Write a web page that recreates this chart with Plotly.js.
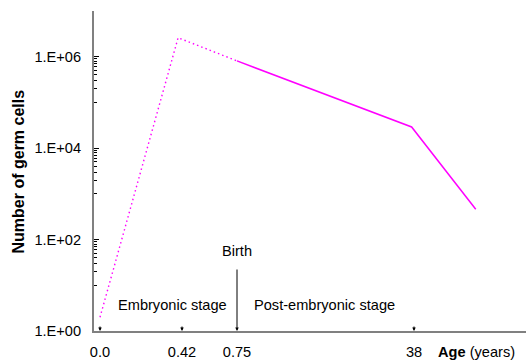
<!DOCTYPE html>
<html>
<head>
<meta charset="utf-8">
<script src="https://cdn.plot.ly/plotly-3.0.1.min.js"></script>
<style>html,body{margin:0;padding:0;background:#fff;}#chart{width:526px;height:360px;}</style>
</head>
<body>
<div id="chart"></div>
<script>
// ---- data ----
const embryonicAges = [0, 0.4, 0.75];
const embryonicCells = [2, 2.6e6, 8.1e5];
const postAges = [0.75, 37.5, 51];
const postCells = [8.1e5, 2.9e4, 460];
const xTickAges = [0, 0.42, 0.75, 38];
const xTickLabels = ['0.0', '0.42', '0.75', '38'];
const yTickVals = [1, 1e2, 1e4, 1e6];
const yTickLabels = ['1.E+00', '1.E+02', '1.E+04', '1.E+06'];

// ---- custom (piecewise) age scale of the x axis ----
const scaleAges = [0, 0.42, 0.75, 38];
const scaleUnits = [0, 82, 137, 314];
const tailSlope = 4.75;
function agePos(a) {
  const n = scaleAges.length;
  if (a >= scaleAges[n - 1]) return scaleUnits[n - 1] + (a - scaleAges[n - 1]) * tailSlope;
  for (let i = 0; i < n - 1; i++) {
    if (a <= scaleAges[i + 1]) {
      const t = (a - scaleAges[i]) / (scaleAges[i + 1] - scaleAges[i]);
      return scaleUnits[i] + t * (scaleUnits[i + 1] - scaleUnits[i]);
    }
  }
}

// minor ticks: k * 10^(n+1) between major ticks
const minorVals = [];
for (let e = 0; e < 7; e += 2) for (let k = 1; k <= 9; k++) minorVals.push(k * Math.pow(10, e + 1));

const FONT = 'Liberation Sans, Arial, sans-serif';
const FS = 14.6;
const MAG = '#ff00ff';

const traces = [
  {x: embryonicAges.map(agePos), y: embryonicCells, type: 'scatter', mode: 'lines',
   line: {color: MAG, width: 1.4, dash: '1.5px,3px'}, hoverinfo: 'skip'},
  {x: postAges.map(agePos), y: postCells, type: 'scatter', mode: 'lines',
   line: {color: MAG, width: 1.5}, hoverinfo: 'skip'}
];

const annotations = [];
// small arrow marks on the x axis
[0, 0.42, 38].forEach(a => annotations.push({
  x: agePos(a), y: 0, xref: 'x', yref: 'y', text: '', showarrow: true,
  ax: 0, ay: -6, arrowhead: 2, arrowsize: 0.7, arrowwidth: 1, arrowcolor: '#000'
}));
// birth arrow
annotations.push({x: agePos(0.75), y: 0, xref: 'x', yref: 'y', text: '', showarrow: true,
  ax: 0, ay: -63, arrowhead: 2, arrowsize: 0.7, arrowwidth: 1, arrowcolor: '#000'});
annotations.push({x: agePos(0.75), y: 1.75, xref: 'x', yref: 'y', text: 'Birth', showarrow: false,
  font: {family: FONT, size: FS, color: '#000'}});
annotations.push({x: 72, y: 0.57, xref: 'x', yref: 'y', text: 'Embryonic stage', showarrow: false,
  font: {family: FONT, size: FS, color: '#000'}});
annotations.push({x: 224, y: 0.57, xref: 'x', yref: 'y', text: 'Post-embryonic stage', showarrow: false,
  font: {family: FONT, size: FS, color: '#000'}});
annotations.push({x: 376, y: 0, xref: 'x', yref: 'paper', yanchor: 'middle', yshift: -21, text: '<b>Age</b> (years)', showarrow: false,
  font: {family: FONT, size: FS, color: '#000'}});
annotations.push({x: -0.1748, y: 0.5, xref: 'paper', yref: 'paper', xanchor: 'center', yanchor: 'middle',
  text: '<b>Number of germ cells</b>', textangle: -90,
  showarrow: false, font: {family: FONT, size: 16, color: '#000'}});

const layout = {
  width: 526, height: 360,
  margin: {l: 94, r: 0, t: 11, b: 29, pad: 0},
  paper_bgcolor: '#fff', plot_bgcolor: '#fff',
  showlegend: false, hovermode: false,
  font: {family: FONT, size: FS, color: '#000'},
  xaxis: {
    range: [-6, 426], showgrid: false, zeroline: false,
    showline: true, linecolor: '#808080', linewidth: 2,
    tickmode: 'array', tickvals: xTickAges.map(agePos), ticktext: xTickLabels,
    ticks: '', ticklabelstandoff: 6, tickfont: {family: FONT, size: FS, color: '#000'}
  },
  yaxis: {
    type: 'log', range: [0, 7], showgrid: false, zeroline: false,
    showline: true, linecolor: '#808080', linewidth: 2,
    tickmode: 'array', tickvals: yTickVals, ticktext: yTickLabels,
    ticks: 'inside', ticklen: 5, tickwidth: 1, tickcolor: '#000',
    ticklabelstandoff: 8, tickfont: {family: FONT, size: FS, color: '#000'},
    minor: {tickmode: 'array', tickvals: minorVals, ticks: 'inside', ticklen: 3, tickwidth: 1, tickcolor: '#000', showgrid: false}
  },
  annotations: annotations
};

Plotly.newPlot('chart', traces, layout, {staticPlot: true, displayModeBar: false});
</script>
</body>
</html>
